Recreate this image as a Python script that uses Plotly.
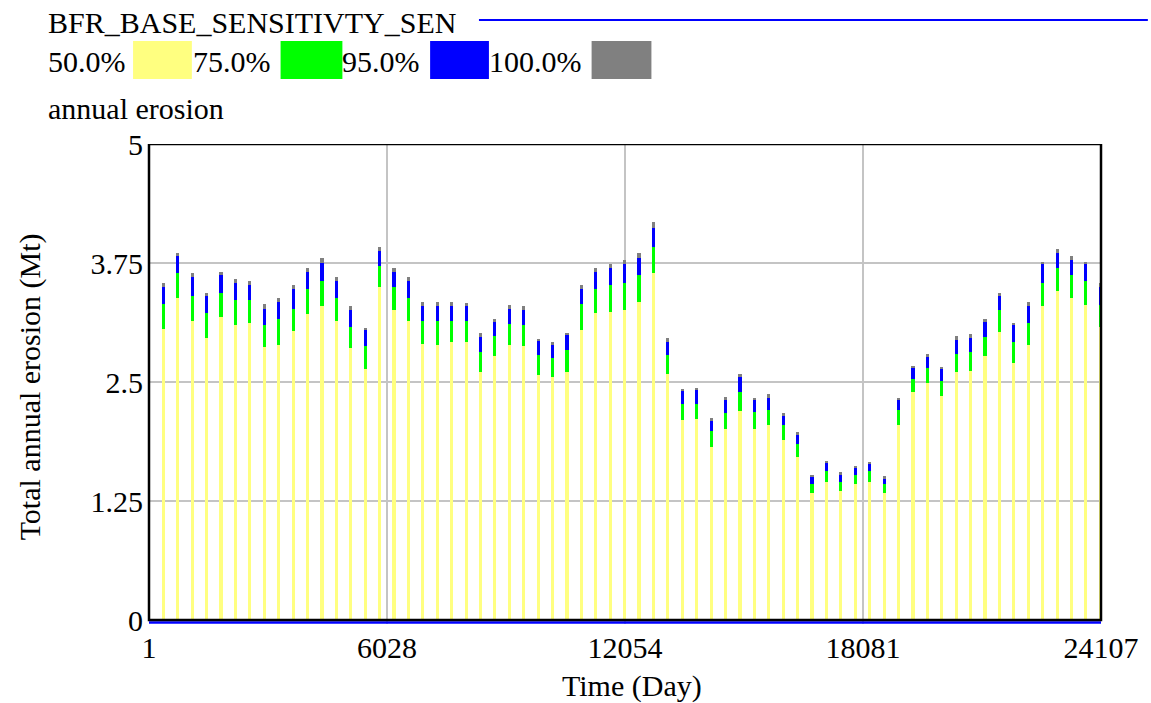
import plotly.graph_objects as go

# Spike day positions (one per simulated year)
spike_day = [365, 730, 1095, 1460, 1825, 2190, 2555, 2920, 3285, 3650, 4015, 4380,
             4745, 5110, 5475, 5840, 6205, 6570, 6935, 7300, 7665, 8030, 8395, 8760,
             9125, 9490, 9855, 10220, 10585, 10950, 11315, 11680, 12045, 12410, 12775,
             13140, 13505, 13870, 14235, 14600, 14965, 15330, 15695, 16060, 16425,
             16790, 17155, 17520, 17885, 18250, 18615, 18980, 19345, 19710, 20075,
             20440, 20805, 21170, 21535, 21900, 22265, 22630, 22995, 23360, 23725, 24090]

# Upper bound of each confidence band (Mt)
band_50 = [3.06, 3.38, 3.14, 2.96, 3.18, 3.10, 3.12, 2.87, 2.89, 3.04, 3.21, 3.30,
           3.14, 2.86, 2.64, 3.50, 3.26, 3.14, 2.90, 2.89, 2.92, 2.92, 2.61, 2.77,
           2.89, 2.88, 2.57, 2.55, 2.61, 3.05, 3.22, 3.24, 3.26, 3.34, 3.64, 2.58,
           2.10, 2.11, 1.82, 2.01, 2.20, 2.01, 2.05, 1.89, 1.71, 1.33, 1.45, 1.35,
           1.43, 1.45, 1.33, 2.05, 2.39, 2.49, 2.35, 2.61, 2.62, 2.77, 3.03, 2.70,
           2.89, 3.30, 3.46, 3.38, 3.31, 3.08]
band_75 = [3.32, 3.64, 3.40, 3.22, 3.44, 3.36, 3.36, 3.10, 3.16, 3.27, 3.48, 3.56,
           3.38, 3.08, 2.88, 3.72, 3.50, 3.38, 3.14, 3.14, 3.14, 3.14, 2.81, 2.98,
           3.11, 3.10, 2.78, 2.75, 2.84, 3.32, 3.48, 3.52, 3.54, 3.62, 3.92, 2.78,
           2.27, 2.27, 1.99, 2.17, 2.40, 2.19, 2.21, 2.05, 1.85, 1.43, 1.57, 1.45,
           1.52, 1.57, 1.43, 2.21, 2.53, 2.65, 2.51, 2.79, 2.81, 2.97, 3.26, 2.92,
           3.12, 3.54, 3.70, 3.62, 3.56, 3.31]
band_95 = [3.50, 3.82, 3.60, 3.40, 3.62, 3.54, 3.52, 3.27, 3.34, 3.48, 3.66, 3.75,
           3.56, 3.26, 3.05, 3.88, 3.66, 3.56, 3.30, 3.30, 3.30, 3.30, 2.97, 3.14,
           3.27, 3.26, 2.94, 2.89, 3.00, 3.48, 3.66, 3.70, 3.74, 3.80, 4.12, 2.92,
           2.41, 2.42, 2.10, 2.32, 2.56, 2.32, 2.33, 2.15, 1.95, 1.51, 1.65, 1.52,
           1.60, 1.64, 1.49, 2.32, 2.65, 2.77, 2.64, 2.94, 2.96, 3.14, 3.40, 3.10,
           3.30, 3.74, 3.86, 3.78, 3.74, 3.50]
band_100 = [3.54, 3.86, 3.64, 3.44, 3.66, 3.58, 3.56, 3.32, 3.38, 3.52, 3.70, 3.80,
            3.60, 3.30, 3.07, 3.92, 3.70, 3.60, 3.34, 3.34, 3.34, 3.33, 3.02, 3.16,
            3.31, 3.30, 2.95, 2.92, 3.02, 3.52, 3.70, 3.74, 3.78, 3.86, 4.18, 2.96,
            2.43, 2.43, 2.12, 2.34, 2.58, 2.33, 2.37, 2.17, 1.97, 1.52, 1.67, 1.55,
            1.62, 1.65, 1.51, 2.33, 2.67, 2.79, 2.65, 2.98, 3.00, 3.16, 3.44, 3.11,
            3.34, 3.76, 3.90, 3.82, 3.76, 3.54]

x_ticks = [1, 6027.5, 12054, 18080.5, 24107]
x_tick_text = ["1", "6028", "12054", "18081", "24107"]
y_ticks = [0, 1.25, 2.5, 3.75, 5]
y_tick_text = ["0", "1.25", "2.5", "3.75", "5"]

band_labels = ["50.0%", "75.0%", "95.0%", "100.0%"]
band_colors = ["#FFFF80", "#00FF00", "#0000FF", "#808080"]

FONT = "Liberation Serif"
FS = 30

fig = go.Figure()

lowers = [[0] * len(spike_day), band_50, band_75, band_95]
uppers = [band_50, band_75, band_95, band_100]
for lo, hi, col, name in zip(lowers, uppers, band_colors, band_labels):
    fig.add_trace(go.Bar(
        x=spike_day, y=[h - l for h, l in zip(hi, lo)], base=lo,
        width=80, marker=dict(color=col, line=dict(width=0)),
        name=name, showlegend=False, hoverinfo="skip"))

# base-run line (sits at zero along the bottom)
fig.add_trace(go.Scatter(x=[1, 24107], y=[-0.026, -0.026], mode="lines",
                         line=dict(color="#0000FF", width=2.5),
                         showlegend=False, hoverinfo="skip"))

fig.update_layout(
    width=1151, height=703,
    margin=dict(l=149, r=47, t=144, b=79),
    paper_bgcolor="white", plot_bgcolor="white",
    barmode="overlay", bargap=0,
    font=dict(family=FONT, size=FS, color="black"),
    xaxis=dict(range=[1, 24107], tickvals=x_ticks, ticktext=x_tick_text,
               showgrid=True, gridcolor="#C4C4C4", gridwidth=2,
               showline=False, zeroline=False, ticks="",
               ticklabelstandoff=3, tickfont=dict(family=FONT, size=FS)),
    yaxis=dict(range=[-0.042, 5], tickvals=y_ticks, ticktext=y_tick_text,
               showgrid=True, gridcolor="#C4C4C4", gridwidth=2,
               showline=False, zeroline=False, ticks="",
               ticklabelstandoff=5, tickfont=dict(family=FONT, size=FS)),
)

# plot frame (bottom edge at zero)
fig.add_shape(type="rect", xref="x domain", yref="y", x0=0, x1=1, y0=0, y1=5,
              line=dict(color="black", width=2.5), layer="above")

def px(x):
    return (x - 149) / 955

def py(y):
    return (624 - y) / 480

def text(t, x, y, xanchor="left", angle=0):
    fig.add_annotation(text=t, xref="paper", yref="paper", x=x, y=y,
                       xanchor=xanchor, yanchor="middle", showarrow=False,
                       textangle=angle, font=dict(family=FONT, size=FS, color="black"))

text("BFR_BASE_SENSITIVTY_SEN", px(46), py(22))
fig.add_shape(type="line", xref="paper", yref="paper", x0=px(480), x1=px(1151),
              y0=py(20), y1=py(20), line=dict(color="#0000FF", width=2))

legend_text_x = [46, 191, 341, 488]
legend_box_x = [(133, 192), (281, 343), (431, 490), (593, 653)]
for lab, tx, (b0, b1), col in zip(band_labels, legend_text_x, legend_box_x, band_colors):
    text(lab, px(tx), py(62))
    fig.add_shape(type="rect", xref="paper", yref="paper", x0=px(b0), x1=px(b1),
                  y0=py(79), y1=py(41), fillcolor=col, line=dict(width=0))

text("annual erosion", px(46), py(109))
text("Time (Day)", px(634), py(686), xanchor="center")
text("Total annual erosion (Mt)", px(30), py(387), xanchor="center", angle=-90)

fig.write_html("out.html", config={"displayModeBar": False},
               post_script="document.body.style.margin='0';")
